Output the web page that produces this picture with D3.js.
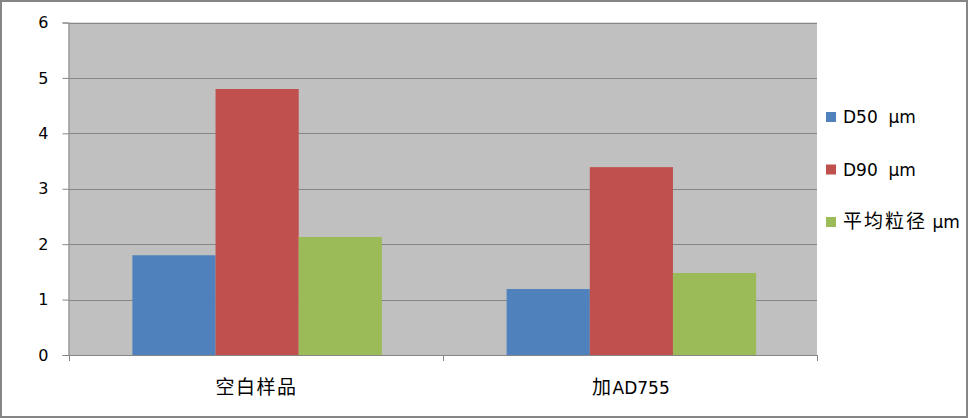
<!DOCTYPE html>
<html><head><meta charset="utf-8">
<script src="https://cdn.jsdelivr.net/npm/d3@7"></script>
<style>body{margin:0;background:#fff}svg{display:block}text{font-family:"DejaVu Sans","Noto Sans CJK SC",sans-serif}</style>
</head><body>
<script>
const categories = ["空白样品", "加AD755"];
const seriesNames = ["D50  μm", "D90  μm", "平均粒径 μm"];
const seriesColors = ["#4f81bd", "#c0504d", "#9bbb59"];
const d50 = [1.8, 1.19];
const d90 = [4.8, 3.39];
const avg = [2.13, 1.48];
const yTicks = [0, 1, 2, 3, 4, 5, 6];

(function () {
const series = [d50, d90, avg];
const W = 969, H = 420;
const svg = d3.select("body").append("svg").attr("width", W).attr("height", H);
svg.append("rect").attr("x", 1).attr("y", 1).attr("width", 966).attr("height", 416)
  .attr("fill", "#fff").attr("stroke", "#868686").attr("stroke-width", 2);

const pL = 68.5, pR = 817, pT = 22.5, pB = 355;
const x = d3.scaleBand().domain(categories).range([pL, pR]).paddingInner(0).paddingOuter(0);
const y = d3.scaleLinear().domain([0, 6]).range([pB, pT]);
const gap = 1.5;
const bw = x.bandwidth() / (3 + gap);
const shift = 1.5;
const x1 = d3.scaleBand().domain(d3.range(3)).range([bw * gap / 2 + shift, x.bandwidth() - bw * gap / 2 + shift]);

svg.append("rect").attr("x", pL).attr("y", pT).attr("width", pR - pL).attr("height", pB - pT).attr("fill", "#c0c0c0");

svg.append("g").selectAll("line").data(yTicks.filter(d => d > 0)).join("line")
  .attr("x1", pL).attr("x2", pR)
  .attr("y1", d => Math.round(y(d)) + 0.5).attr("y2", d => Math.round(y(d)) + 0.5)
  .attr("stroke", "#868686").attr("stroke-width", 1);

categories.forEach((c, ci) => {
  series.forEach((s, si) => {
    svg.append("rect")
      .attr("x", x(c) + x1(si)).attr("width", x1.bandwidth())
      .attr("y", y(s[ci])).attr("height", y(0) - y(s[ci]))
      .attr("fill", seriesColors[si]);
  });
});

const yAxis = d3.axisLeft(y).tickValues(yTicks).tickSize(6).tickPadding(14).tickFormat(d3.format("d"));
const gy = svg.append("g").attr("transform", `translate(${pL},0)`).call(yAxis);
gy.select(".domain").attr("stroke", "#868686");
gy.selectAll(".tick line").attr("stroke", "#868686");
gy.selectAll("text").attr("font-size", 16).attr("fill", "#000").attr("font-family", "DejaVu Sans");

const gx = svg.append("g").attr("transform", `translate(0,${pB})`);
gx.append("line").attr("x1", pL).attr("x2", pR).attr("y1", 0.5).attr("y2", 0.5).attr("stroke", "#868686");
const bounds = [pL, ...categories.map(c => x(c) + x.bandwidth())];
gx.selectAll("line.t").data(bounds).join("line").attr("class", "t")
  .attr("x1", d => Math.round(d) + 0.5).attr("x2", d => Math.round(d) + 0.5).attr("y1", 0).attr("y2", 6)
  .attr("stroke", "#868686");

function cjkText(sel, str, cjkSize, cjkSpacing, latinSize) {
  const parts = str.match(/[\u4e00-\u9fff]+|[^\u4e00-\u9fff]+/g) || [];
  parts.forEach(p => {
    const isCjk = /[\u4e00-\u9fff]/.test(p);
    sel.append("tspan")
      .attr("font-size", isCjk ? cjkSize : latinSize)
      .attr("letter-spacing", isCjk ? cjkSpacing : 0)
      .attr("font-family", isCjk ? "'Noto Sans CJK SC',sans-serif" : "'DejaVu Sans',sans-serif")
      .text(p);
  });
}

categories.forEach(c => {
  const t = gx.append("text")
    .attr("x", x(c) + x.bandwidth() / 2 + 1).attr("y", 39)
    .attr("text-anchor", "middle").attr("fill", "#000");
  cjkText(t, c, 19, 1.5, 17);
});

const lg = svg.append("g");
seriesNames.forEach((n, i) => {
  const cy = 117 + i * 52.5;
  lg.append("rect").attr("x", 826).attr("y", cy - 5).attr("width", 10).attr("height", 10).attr("fill", seriesColors[i]);
  const t = lg.append("text").attr("x", 843).attr("y", cy + 6)
    .attr("fill", "#000").style("white-space", "pre");
  cjkText(t, n, 19, 2, 17);
});
})();
</script>
</body></html>
